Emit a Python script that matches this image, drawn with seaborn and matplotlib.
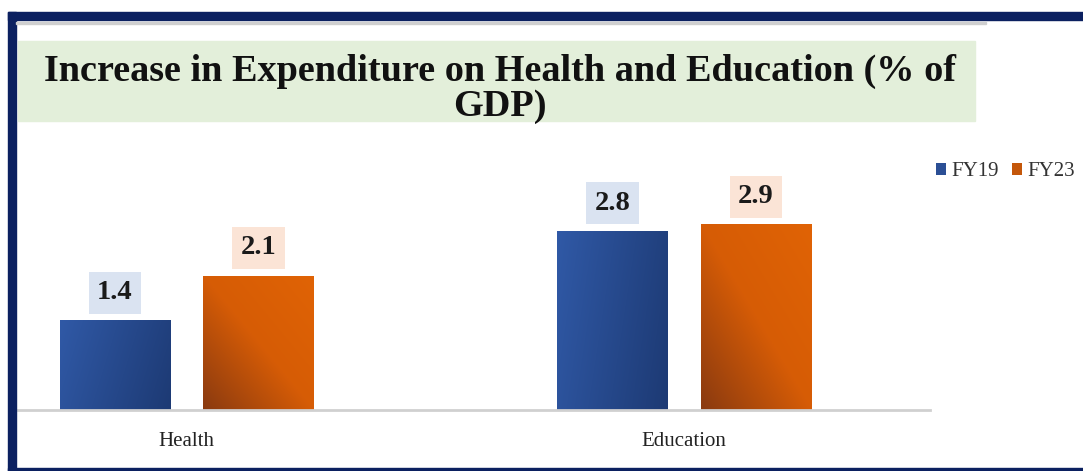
import numpy as np
import pandas as pd
import matplotlib
matplotlib.use("Agg")
import matplotlib.pyplot as plt
from matplotlib.patches import Rectangle, Patch
from matplotlib.colors import LinearSegmentedColormap
import seaborn as sns

# ---- data ----
categories = ["Health", "Education"]
years = ["FY19", "FY23"]
fy19 = [1.4, 2.8]
fy23 = [2.1, 2.9]
title = "Increase in Expenditure on Health and Education (% of\nGDP)"

df = pd.DataFrame({
    "Category": categories * 2,
    "Year": [years[0]] * len(categories) + [years[1]] * len(categories),
    "Value": fy19 + fy23,
})

W, H = 1083, 471
sns.set_theme(style="white")
plt.rcParams["font.family"] = ["Liberation Serif", "DejaVu Serif"]

fig = plt.figure(figsize=(W / 100, H / 100), dpi=100)
fig.patch.set_facecolor("white")

def fx(px):
    return px / W

def fy(py):
    return 1 - py / H

# frame
navy = "#0b2060"
fig.patches.append(Rectangle((fx(8), 0), fx(8), fy(12), transform=fig.transFigure, color=navy, zorder=0))
fig.patches.append(Rectangle((fx(8), fy(20)), 1, 8 / H, transform=fig.transFigure, color=navy, zorder=0))
fig.patches.append(Rectangle((fx(8), 0), 1, 3 / H, transform=fig.transFigure, color=navy, zorder=0))
fig.patches.append(Rectangle((fx(16), fy(24)), fx(970), 2 / H, transform=fig.transFigure, color="#cfcfcf", zorder=0))

# title box
fig.patches.append(Rectangle((fx(18), fy(121)), fx(957), 80 / H, transform=fig.transFigure,
                             color="#e3efda", zorder=0))
fig.text(fx(500), fy(89), title, ha="center", va="center", fontsize=27.5, fontweight="bold",
         color="#111111", linespacing=0.97, multialignment="center")

# axes
ax = fig.add_axes([fx(18), 61 / H, fx(912), 260 / H])
ax.set_facecolor("none")
palette = {"FY19": "#2b4f95", "FY23": "#c4570a"}
sns.barplot(data=df, x="Category", y="Value", hue="Year", order=categories, hue_order=years,
            palette=palette, width=0.577, gap=0.233, saturation=1, legend=False, ax=ax)

ax.set_xlabel("")
ax.set_ylabel("")
ax.set_yticks([])
ax.tick_params(axis="x", length=0, labelsize=15, pad=16, colors="#222222")
for s in ["top", "left", "right"]:
    ax.spines[s].set_visible(False)
ax.spines["bottom"].set_color("#d0d0d0")
ax.spines["bottom"].set_linewidth(2)

# gradient fills
blue_cmap = LinearSegmentedColormap.from_list("b", ["#3059a6", "#1d3a74"])
orange_cmap = LinearSegmentedColormap.from_list("o", ["#8a3a10", "#d65c06", "#e06305"])
label_bg = {"FY19": "#dae3f1", "FY23": "#fbe4d6"}
bars = list(ax.patches)
values = fy19 + fy23
hue_of = [years[0]] * len(categories) + [years[1]] * len(categories)
for bar, v, hname in zip(bars, values, hue_of):
    x0, y0 = bar.get_x(), bar.get_y()
    w, h = bar.get_width(), bar.get_height()
    gx, gy = np.meshgrid(np.linspace(0, 1, 60), np.linspace(0, 1, 60))
    if hname == "FY19":
        grad = 0.8 * gx + 0.2 * (1 - gy)
        cmap = blue_cmap
    else:
        grad = 0.5 * gx + 0.5 * gy
        cmap = orange_cmap
    im = ax.imshow(grad, extent=[x0, x0 + w, y0, y0 + h], origin="lower", cmap=cmap,
                   aspect="auto", zorder=bar.get_zorder() + 0.1, interpolation="bilinear")
    im.set_clip_path(bar)
    bar.set_edgecolor("none")
    ax.annotate(f"{v:.1f}", xy=(x0 + w / 2, y0 + h), xytext=(0, 20), textcoords="offset points",
                ha="center", va="center", fontsize=20.5, fontweight="bold", color="#1a1a1a",
                bbox=dict(boxstyle="square,pad=0.3", fc=label_bg[hname], ec="none"))
ax.set_xlim(-0.339, 1.494)
ax.set_ylim(0, 260 / 64)

# legend
handles = [Patch(facecolor=palette[y], edgecolor="none") for y in years]
fig.legend(handles, years, loc="center left", bbox_to_anchor=(fx(936), fy(172)), ncol=2,
           frameon=False, fontsize=15, handlelength=0.5, handleheight=0.5, handletextpad=0.25,
           columnspacing=0.6, borderaxespad=0, borderpad=0, labelcolor="#333333")

fig.savefig("out.png", dpi=100, facecolor="white")
